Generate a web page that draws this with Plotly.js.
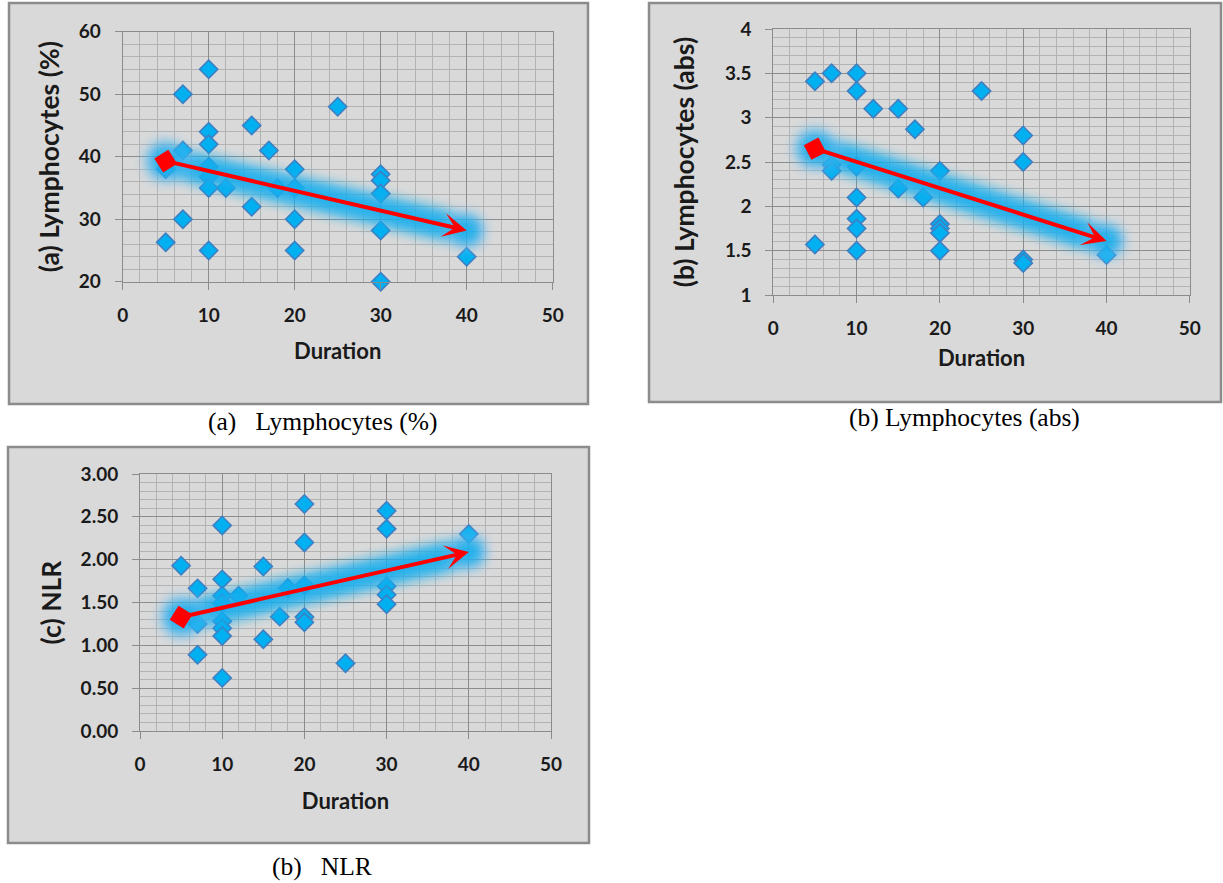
<!DOCTYPE html>
<html><head><meta charset="utf-8">
<script src="https://cdn.plot.ly/plotly-3.0.1.min.js"></script>
<style>body{margin:0;background:#fff}#chart{width:1223px;height:883px}</style>
</head><body><div id="chart"></div>
<script>
// ---------- Data ----------
// (a) Lymphocytes (%) vs Duration
const durationA = [5,5,7,7,7,10,10,10,10,10,10,10,12,15,15,17,18,20,20,20,20,25,30,30,30,30,30,40];
const lymphPct  = [38,26.3,50,41,30,54,44,42,38.4,36.8,35,25,35,45,32,41,35,38,35,30,25,48,37.2,36.2,34.1,28.2,20,24];
const trendAx = [5, 40];
const trendAy = [39.3, 28.2];

// (b) Lymphocytes (abs) vs Duration
const durationB = [5,5,7,7,7,10,10,10,10,10,10,10,12,15,15,17,18,20,20,20,20,20,25,30,30,30,30,40];
const lymphAbs  = [3.41,1.57,3.5,2.47,2.4,3.5,3.3,2.45,2.1,1.86,1.75,1.5,3.1,3.1,2.2,2.87,2.1,2.4,1.8,1.75,1.7,1.5,3.3,2.8,2.5,1.4,1.36,1.45];
const trendBx = [5, 40];
const trendBy = [2.65, 1.61];

// (c) NLR vs Duration
const durationC = [5,7,7,7,10,10,10,10,10,10,10,10,12,15,15,17,18,20,20,20,20,20,25,30,30,30,30,30,40];
const nlr       = [1.93,1.665,1.25,0.89,2.40,1.77,1.58,1.49,1.28,1.2,1.11,0.62,1.58,1.92,1.07,1.335,1.67,2.65,2.2,1.70,1.33,1.27,0.79,2.57,2.36,1.69,1.59,1.48,2.30];
const trendCx = [5, 40];
const trendCy = [1.33, 2.09];

// Labels
const xTitle = 'Duration';
const yTitles = ['(a) Lymphocytes (%)', '(b) Lymphocytes (abs)', '(c) NLR'];
const captions = ['(a)\u2002 Lymphocytes (%)', '(b) Lymphocytes (abs)', '(b)\u2002 NLR'];

// ---------- Geometry ----------
const W = 1223, H = 883;
const px = v => v / W, py = v => 1 - v / H;
const panels = [
  {box:[9,3,588,404],   xd:[122.7,552.7], yd:[31.7,281.7], yr:[20,60], ydt:10, ymin:2,   yfmt:'',    cap:[322,421], xts:19, yts:11},
  {box:[649,3,1221,402],xd:[773.3,1189.8],yd:[29,295],     yr:[1,4],   ydt:0.5, ymin:0.1, yfmt:'',    cap:[964,417], xts:12, yts:22},
  {box:[8,447,589,843], xd:[140,551],     yd:[474,731],    yr:[0,3],   ydt:0.5, ymin:0.1, yfmt:'.2f', cap:[322,866], xts:19, yts:11}
];
const series = [
  {x:durationA, y:lymphPct, tx:trendAx, ty:trendAy},
  {x:durationB, y:lymphAbs, tx:trendBx, ty:trendBy},
  {x:durationC, y:nlr,      tx:trendCx, ty:trendCy}
];

const fam = 'Lato, "Open Sans", sans-serif';
const tickFont = {family:fam, size:19, color:'#1a1a1a', weight:'bold'};
const xTitleFont = {family:fam, size:22, color:'#1a1a1a', weight:'bold'};
const yTitleFont = {family:fam, size:26.5, color:'#1a1a1a', weight:'bold'};
const majorGrid = '#8c8c8c', minorGrid = '#b3b3b3';

const data = [];
const layout = {
  width: W, height: H, margin:{l:0,r:0,t:0,b:0},
  paper_bgcolor:'#ffffff', plot_bgcolor:'#d9d9d9', showlegend:false,
  shapes:[], annotations:[]
};

panels.forEach((p, i) => {
  const s = series[i];
  const xa = i === 0 ? 'x' : 'x' + (i+1);
  const ya = i === 0 ? 'y' : 'y' + (i+1);
  const xKey = i === 0 ? 'xaxis' : 'xaxis' + (i+1);
  const yKey = i === 0 ? 'yaxis' : 'yaxis' + (i+1);
  const xdom = [px(p.xd[0]), px(p.xd[1])];
  const ydom = [py(p.yd[1]), py(p.yd[0])];
  const common = {showgrid:true, gridcolor:majorGrid, gridwidth:1, showline:true, linecolor:majorGrid, linewidth:1,
    mirror:true, ticks:'outside', ticklen:7, tickcolor:majorGrid, zeroline:false, tickfont:tickFont, fixedrange:true};
  layout[xKey] = Object.assign({}, common, {domain:xdom, anchor:ya, range:[0,50], tick0:0, dtick:10, ticklabelstandoff:9,
    minor:{dtick:2, showgrid:true, gridcolor:minorGrid, gridwidth:1, ticks:''},
    title:{text:xTitle, font:xTitleFont, standoff:p.xts}});
  layout[yKey] = Object.assign({}, common, {domain:ydom, anchor:xa, range:p.yr, tick0:p.yr[0], dtick:p.ydt,
    tickformat:p.yfmt, ticklabelstandoff:10,
    minor:{dtick:p.ymin, showgrid:true, gridcolor:minorGrid, gridwidth:1, ticks:''},
    title:{text:yTitles[i], font:yTitleFont, standoff:p.yts}});

  // panel background + border
  layout.shapes.push({type:'rect', xref:'paper', yref:'paper', layer:'below',
    x0:px(p.box[0]), x1:px(p.box[2]), y0:py(p.box[3]), y1:py(p.box[1]),
    fillcolor:'#d9d9d9', line:{color:'#8c8c8c', width:2.5}});

  // data points
  data.push({type:'scatter', mode:'markers', x:s.x, y:s.y, xaxis:xa, yaxis:ya, cliponaxis:false,
    marker:{symbol:'diamond', size:14, color:'#00b0f0', line:{color:'#3f7fc3', width:1.6}}, hoverinfo:'skip'});

  // glow behind the arrow
  data.push({type:'scatter', mode:'lines+markers', x:s.tx, y:s.ty, xaxis:xa, yaxis:ya, cliponaxis:false, uid:'glow'+i,
    line:{color:'#12aeee', width:30}, marker:{symbol:'circle', size:[44,38], color:'#12aeee'}, opacity:0.9, hoverinfo:'skip'});

  // red diamond at arrow start, aligned with the arrow direction
  const dxp = (s.tx[1]-s.tx[0])/50 * (p.xd[1]-p.xd[0]);
  const dyp = -(s.ty[1]-s.ty[0])/(p.yr[1]-p.yr[0]) * (p.yd[1]-p.yd[0]);
  const ang = Math.atan2(dyp, dxp) * 180 / Math.PI;
  data.push({type:'scatter', mode:'markers', x:[s.tx[0]], y:[s.ty[0]], xaxis:xa, yaxis:ya, cliponaxis:false,
    marker:{symbol:'diamond', size:18, color:'#ff0000', angle:ang}, hoverinfo:'skip'});

  // red arrow
  layout.annotations.push({xref:xa, yref:ya, axref:xa, ayref:ya, x:s.tx[1], y:s.ty[1], ax:s.tx[0], ay:s.ty[0],
    text:'', showarrow:true, arrowhead:3, arrowsize:1, arrowwidth:4, arrowcolor:'#ff0000', standoff:0});

  // caption
  layout.annotations.push({xref:'paper', yref:'paper', x:px(p.cap[0]), y:py(p.cap[1]), xanchor:'center', yanchor:'middle',
    text:captions[i], showarrow:false, font:{family:'"Liberation Serif", "Times New Roman", serif', size:25.5, color:'#000'}});
});

Plotly.newPlot('chart', data, layout, {staticPlot:true}).then(gd => {
  const ns = 'http://www.w3.org/2000/svg';
  const svg = gd.querySelector('.main-svg');
  let defs = svg.querySelector('defs');
  if (!defs) { defs = document.createElementNS(ns, 'defs'); svg.insertBefore(defs, svg.firstChild); }
  const f = document.createElementNS(ns, 'filter');
  f.setAttribute('id', 'glowBlur');
  f.setAttribute('filterUnits', 'userSpaceOnUse');
  f.setAttribute('x', '-3000'); f.setAttribute('y', '-3000');
  f.setAttribute('width', '8000'); f.setAttribute('height', '8000');
  const b = document.createElementNS(ns, 'feGaussianBlur');
  b.setAttribute('stdDeviation', '6');
  f.appendChild(b); defs.appendChild(f);
  gd.querySelectorAll('g.trace').forEach(g => {
    const d = g.__data__;
    const tr = d && d[0] && d[0].trace;
    if (tr && typeof tr.uid === 'string' && tr.uid.indexOf('glow') === 0) {
      g.setAttribute('filter', 'url(#glowBlur)');
      g.querySelectorAll('path').forEach(pth => { pth.style.strokeLinecap = 'round'; });
    }
  });
});
</script>
</body></html>
